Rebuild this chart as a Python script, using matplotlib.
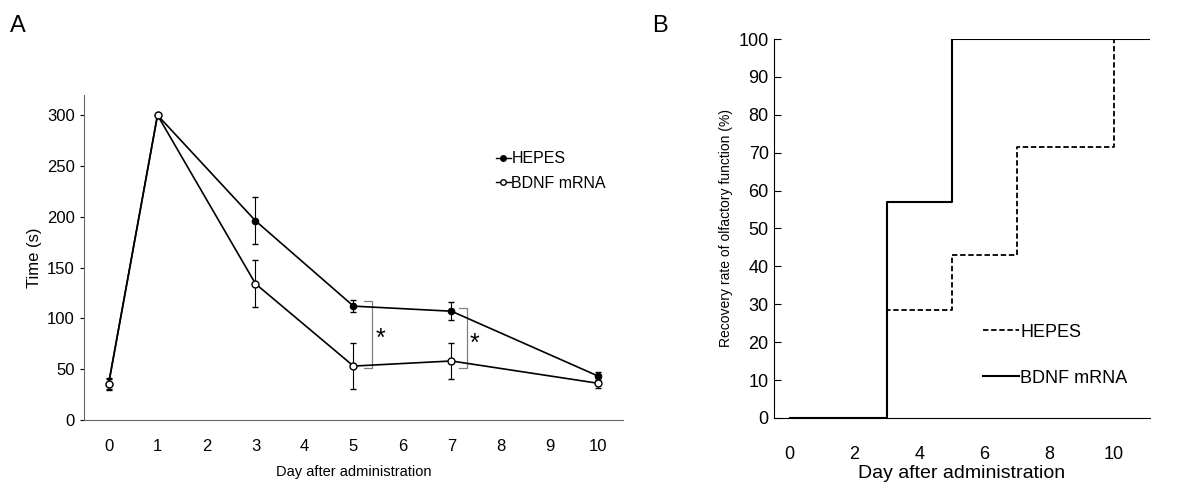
import numpy as np
import matplotlib
matplotlib.use("Agg")
import matplotlib.pyplot as plt
from matplotlib.lines import Line2D

plt.rcParams['font.family'] = ['Liberation Sans', 'DejaVu Sans']

# ---- panel A data ----
days_a = [0, 1, 3, 5, 7, 10]
hepes_t = [35, 300, 196, 112, 107, 43]
hepes_err = [5, 0, 23, 6, 9, 4]
bdnf_t = [35, 300, 134, 53, 58, 36]
bdnf_err = [6, 0, 23, 23, 18, 5]
xticks_a = list(range(11))

# ---- panel B data (step curves) ----
hepes_days = [0, 3, 5, 7, 10, 11.1]
hepes_rate = [0, 28.6, 42.9, 71.4, 100, 100]
bdnf_days = [0, 3, 5, 11.1]
bdnf_rate = [0, 57.1, 100, 100]

fig = plt.figure(figsize=(11.9, 4.94), dpi=100)

# =============================================================================
# A
# =============================================================================
axA = fig.add_axes([0.0706, 0.150, 0.4529, 0.658])
axA.errorbar(days_a, hepes_t, yerr=hepes_err, color='black', lw=1.2,
             marker='o', ms=4.5, mfc='black', mec='black', capsize=2,
             elinewidth=0.8, zorder=3)
axA.errorbar(days_a, bdnf_t, yerr=bdnf_err, color='black', lw=1.2,
             marker='o', ms=5, mfc='white', mec='black', capsize=2,
             elinewidth=0.8, zorder=3)

# significance brackets
for xb, ytop, ybot, xs, ys in [(5.37, 117, 51, 5.55, 80), (7.31, 110, 51, 7.47, 75)]:
    axA.plot([xb - 0.15, xb, xb, xb - 0.15], [ytop, ytop, ybot, ybot],
             color='gray', lw=0.9)
    axA.text(xs, ys, '*', fontsize=18, ha='center', va='center')

axA.set_xlim(-0.5, 10.5)
axA.set_ylim(0, 320)
axA.set_xticks(xticks_a)
axA.set_yticks(range(0, 301, 50))
axA.tick_params(axis='x', length=0, labelsize=12, pad=14)
axA.tick_params(axis='y', length=3, direction='out', labelsize=12)
axA.set_xlabel('Day after administration', fontsize=10.5, labelpad=8)
axA.set_ylabel('Time (s)', fontsize=12)
for s in ['top', 'right']:
    axA.spines[s].set_visible(False)
for s in ['left', 'bottom']:
    axA.spines[s].set_color('#666666')
hA = [Line2D([], [], color='black', lw=1, marker='o', ms=4, mfc='black'),
      Line2D([], [], color='black', lw=1, marker='o', ms=4, mfc='white')]
axA.legend(hA, ['HEPES', 'BDNF mRNA'], loc='upper right',
           bbox_to_anchor=(0.995, 0.87), frameon=False,
           fontsize=11.5, handlelength=0.9, handletextpad=0.05,
           labelspacing=0.6)
fig.text(0.008, 0.935, 'A', fontsize=17)

# =============================================================================
# B
# =============================================================================
axB = fig.add_axes([0.650, 0.154, 0.316, 0.767])
axB.step(hepes_days, hepes_rate, where='post', color='black', lw=1.3,
         ls=(0, (3, 1.5)), label='HEPES')
axB.step(bdnf_days, bdnf_rate, where='post', color='black', lw=1.5,
         label='BDNF mRNA')
axB.set_xlim(-0.5, 11.1)
axB.set_ylim(0, 100)
axB.set_xticks(range(0, 11, 2))
axB.set_yticks(range(0, 101, 10))
axB.tick_params(axis='x', length=0, labelsize=13, pad=20)
axB.tick_params(axis='y', length=5, direction='in', labelsize=13)
axB.set_xlabel('Day after administration', fontsize=14, labelpad=2)
axB.set_ylabel('Recovery rate of olfactory function (%)', fontsize=10)
for s in ['top', 'right']:
    axB.spines[s].set_visible(False)
axB.legend(loc='lower right', bbox_to_anchor=(0.985, 0.04), frameon=False,
           fontsize=13, handlelength=2.0, handletextpad=0.05,
           labelspacing=1.6)
fig.text(0.548, 0.935, 'B', fontsize=17)

fig.savefig('out.png', dpi=100)
